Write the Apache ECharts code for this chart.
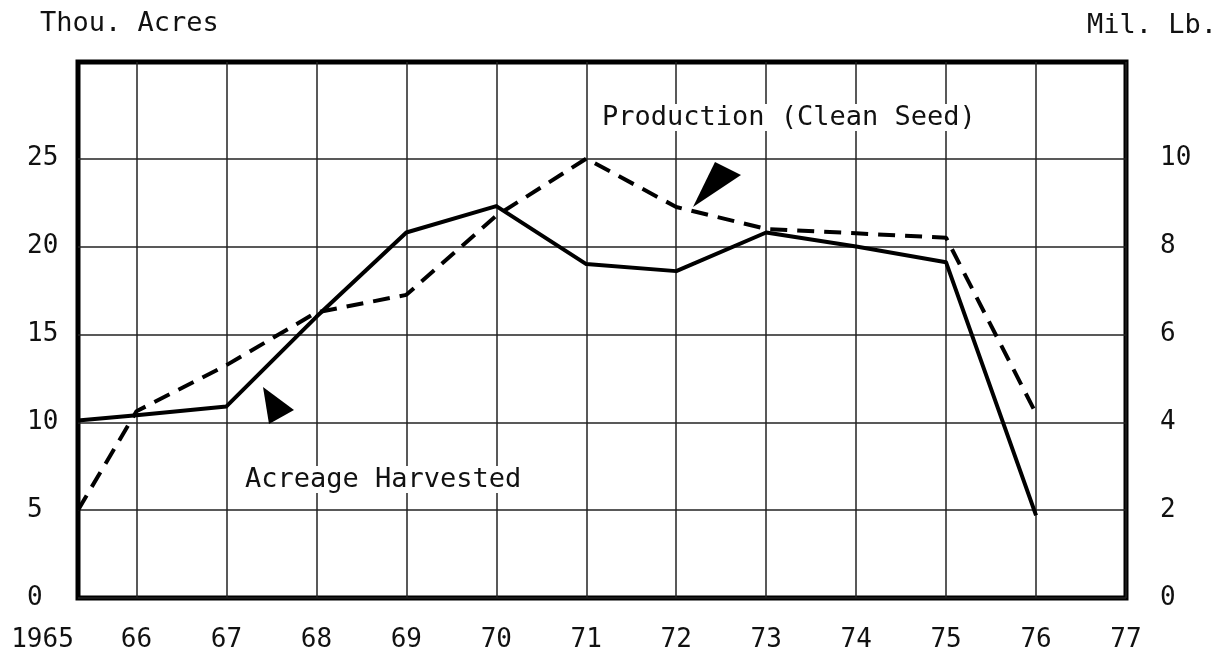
<!DOCTYPE html>
<html><head><meta charset="utf-8">
<script src="https://cdn.jsdelivr.net/npm/echarts@6/dist/echarts.min.js"></script>
<style>html,body{margin:0;padding:0;background:#fff}#c{width:1217px;height:654px}</style>
</head><body><div id="c"></div>
<script>
// ---- data ----
const years = [1965, 1966, 1967, 1968, 1969, 1970, 1971, 1972, 1973, 1974, 1975, 1976];
const acreageHarvested = [10.1, 10.4, 10.9, 16.0, 20.8, 22.3, 19.0, 18.6, 20.8, 20.0, 19.1, 4.7];   // Thou. Acres (left axis)
const productionCleanSeed = [2.0, 4.25, 5.3, 6.5, 6.9, 8.7, 10.0, 8.9, 8.4, 8.3, 8.2, 4.2];        // Mil. Lb. (right axis)
const xTickYears = [1965, 1966, 1967, 1968, 1969, 1970, 1971, 1972, 1973, 1974, 1975, 1976, 1977];
const xTickLabels = ['1965', '66', '67', '68', '69', '70', '71', '72', '73', '74', '75', '76', '77'];
const leftTicks = [0, 5, 10, 15, 20, 25];
const rightTicks = [0, 2, 4, 6, 8, 10];

// ---- layout / style ----
const X_MIN = 1965.35;   // the chart's vertical axis sits a little right of 1965; 1965 values are drawn on it
const LEFT_MAX = 30.5, RIGHT_MAX = 12.2;
const FONT = '"DejaVu Sans Mono", "Liberation Mono", monospace';
const INK = '#111';
const TICK_FS = 26, TEXT_FS = 27;

const chart = echarts.init(document.getElementById('c'), null, {renderer: 'canvas'});
const px = y => Math.max(y, X_MIN);

chart.setOption({
  animation: false,
  backgroundColor: '#fff',
  grid: {left: 78, right: 91, top: 62, bottom: 56, containLabel: false, outerBoundsMode: 'none',
         show: true, borderColor: '#000', borderWidth: 5, backgroundColor: 'transparent'},
  xAxis: {
    type: 'value', min: X_MIN, max: 1977,
    axisLine: {show: false},
    axisTick: {show: false, customValues: xTickYears.slice(1)},
    axisLabel: {
      customValues: xTickYears.slice(1),
      formatter: v => xTickLabels[xTickYears.indexOf(Math.round(v))],
      margin: 29, fontFamily: FONT, fontSize: TICK_FS, color: INK
    },
    splitLine: {show: true, lineStyle: {color: '#222', width: 1.5}}
  },
  yAxis: [
    {
      type: 'value', min: 0, max: LEFT_MAX, position: 'left',
      axisLine: {show: false},
      axisTick: {show: false, customValues: leftTicks},
      axisLabel: {customValues: leftTicks, align: 'left', margin: 51, fontFamily: FONT, fontSize: TICK_FS, color: INK,
                  padding: [4, 0, 0, 0]},
      splitLine: {show: true, lineStyle: {color: '#222', width: 1.5}}
    },
    {
      type: 'value', min: 0, max: RIGHT_MAX, position: 'right',
      axisLine: {show: false},
      axisTick: {show: false, customValues: rightTicks},
      axisLabel: {customValues: rightTicks, align: 'left', margin: 34, fontFamily: FONT, fontSize: TICK_FS, color: INK,
                  padding: [4, 0, 0, 0]},
      splitLine: {show: false}
    }
  ],
  series: [
    {
      name: 'Acreage Harvested', type: 'line', yAxisIndex: 0, symbol: 'none', z: 4,
      data: years.map((y, i) => [px(y), acreageHarvested[i]]),
      lineStyle: {color: '#000', width: 4, join: 'round'}
    },
    {
      name: 'Production (Clean Seed)', type: 'line', yAxisIndex: 1, symbol: 'none', z: 3,
      data: years.map((y, i) => [px(y), productionCleanSeed[i]]),
      lineStyle: {color: '#000', width: 4, type: [17, 10]}
    }
  ],
  graphic: [
    {type: 'text', left: 40, top: 10, style: {text: 'Thou. Acres', font: TEXT_FS + 'px ' + FONT, fill: INK}},
    {type: 'text', right: 0, top: 12, style: {text: 'Mil. Lb.', font: TEXT_FS + 'px ' + FONT, fill: INK}},
    {type: 'text', left: 602, top: 104, z: 10, style: {text: 'Production (Clean Seed)', font: TEXT_FS + 'px ' + FONT, fill: INK, backgroundColor: '#fff'}},
    {type: 'text', left: 245, top: 466, z: 10, style: {text: 'Acreage Harvested', font: TEXT_FS + 'px ' + FONT, fill: INK, backgroundColor: '#fff'}},
    {type: 'polygon', z: 10, shape: {points: [[715, 162], [741, 175], [693, 207]]}, style: {fill: '#000'}},
    {type: 'polygon', z: 10, shape: {points: [[263, 387], [294, 410], [269, 424]]}, style: {fill: '#000'}}
  ]
});

// the first tick label ("1965") lies just left of the vertical axis; place it through the axis scale
const x1965 = chart.convertToPixel({xAxisIndex: 0}, xTickYears[0]);
const yBase = chart.convertToPixel({yAxisIndex: 0}, 0);
chart.setOption({
  graphic: [
    {type: 'text', id: 'firstTick', x: x1965 - 4, y: yBase + 29,
     style: {text: xTickLabels[0], font: TICK_FS + 'px ' + FONT, fill: INK, align: 'center', textAlign: 'center'}}
  ]
});
</script></body></html>
